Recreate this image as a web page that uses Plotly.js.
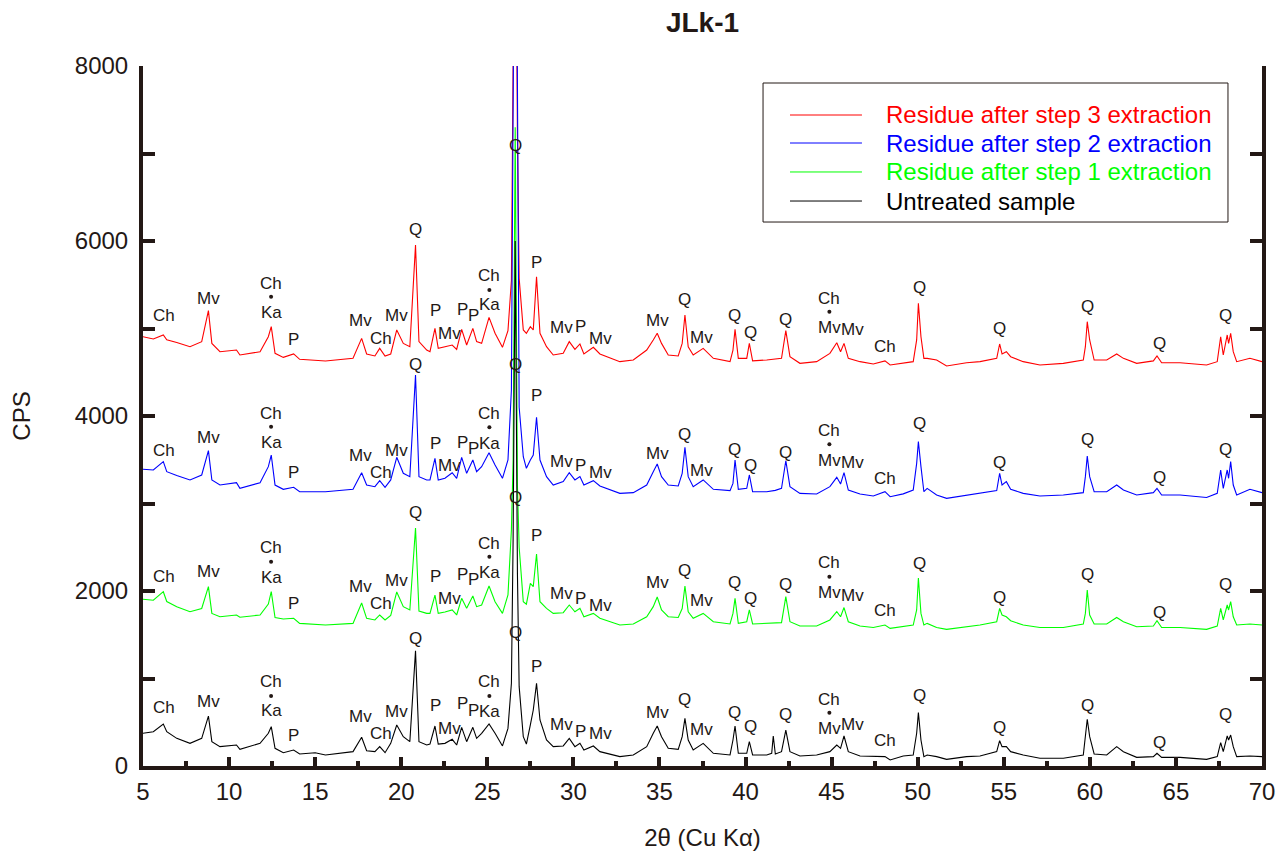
<!DOCTYPE html>
<html><head><meta charset="utf-8">
<script src="https://cdn.plot.ly/plotly-3.0.1.min.js"></script>
<style>body{margin:0;background:#fff}#chart{width:1286px;height:854px}</style>
</head><body><div id="chart"></div>
<script>
// 2θ positions (degrees)
const twoTheta = [
 5.0, 5.6, 6.18, 6.38, 6.96, 7.73, 8.41, 8.8, 9.0, 9.47,
 10.43, 10.63, 11.8, 12.28, 12.45, 12.67, 13.15, 13.75, 14.1, 15.0,
 15.6, 17.2, 17.7, 17.99, 18.47, 18.75, 19.06, 19.39, 19.74, 20.12,
 20.5, 20.83, 21.03, 21.48, 21.67, 21.96, 22.15, 22.54, 22.96, 23.22,
 23.51, 23.8, 24.16, 24.38, 24.67, 25.1, 25.45, 25.88, 26.2, 26.4,
 26.5, 26.62, 26.75, 26.85, 27.09, 27.27, 27.5, 27.67, 27.86, 28.06,
 28.44, 28.83, 29.41, 29.76, 30.09, 30.38, 30.61, 31.16, 31.54, 32.7,
 33.48, 34.26, 34.64, 34.87, 35.12, 35.51, 36.09, 36.32, 36.48, 36.67,
 36.96, 37.54, 38.13, 39.1, 39.27, 39.39, 39.58, 40.07, 40.22, 40.41,
 41.23, 41.52, 41.61, 41.73, 42.09, 42.34, 42.58, 43.16, 44.13, 44.9,
 45.3, 45.52, 45.72, 45.97, 46.65, 47.42, 48.1, 48.4, 49.16, 49.74,
 49.94, 50.04, 50.19, 50.36, 50.55, 51.1, 51.68, 52.84, 53.62, 54.59,
 54.76, 54.9, 55.15, 55.4, 56.13, 57.1, 58.46, 59.62, 59.74, 59.85,
 59.99, 60.25, 60.98, 61.56, 61.95, 62.72, 63.69, 63.9, 64.17, 65.24,
 66.78, 67.4, 67.6, 67.75, 67.98, 68.06, 68.18, 68.33, 68.53, 69.3,
 70.0];

// Intensities (CPS) for each pattern
const untreated = [
 374, 392, 480, 392, 316, 259, 316, 571, 278, 221,
 240, 191, 259, 374, 449, 202, 152, 183, 137, 152,
 126, 164, 328, 175, 164, 221, 152, 259, 469, 335,
 278, 1318, 278, 240, 251, 457, 251, 259, 305, 240,
 442, 278, 442, 316, 374, 480, 374, 229, 430, 945,
 2600, 6000, 2200, 907, 335, 251, 469, 640, 945, 526,
 297, 221, 229, 316, 221, 259, 183, 229, 164, 107,
 126, 221, 374, 457, 335, 202, 191, 335, 545, 297,
 183, 259, 145, 126, 297, 457, 145, 145, 278, 126,
 126, 145, 343, 137, 164, 411, 164, 114, 126, 164,
 240, 202, 343, 164, 114, 107, 107, 69, 114, 126,
 374, 610, 297, 107, 126, 107, 76, 107, 114, 164,
 289, 221, 221, 164, 126, 88, 88, 126, 374, 534,
 335, 137, 126, 221, 164, 99, 107, 145, 99, 99,
 76, 107, 267, 164, 343, 297, 354, 221, 107, 114,
 107];

const step1 = [
 1905, 1895, 1992, 1880, 1820, 1763, 1800, 2050, 1744, 1706,
 1726, 1700, 1726, 1850, 1992, 1697, 1680, 1688, 1630, 1620,
 1611, 1630, 1863, 1688, 1669, 1726, 1669, 1720, 1989, 1821,
 1783, 2720, 1770, 1744, 1744, 1954, 1744, 1760, 1783, 1726,
 1916, 1802, 1943, 1821, 1840, 2057, 1878, 1744, 1954, 2700,
 3500, 7300, 3200, 2500, 1878, 1850, 2088, 2050, 2423, 1878,
 1802, 1744, 1752, 1840, 1763, 1802, 1706, 1744, 1688, 1611,
 1623, 1706, 1821, 1931, 1783, 1706, 1697, 1800, 2057, 1763,
 1688, 1744, 1649, 1623, 1744, 1916, 1630, 1649, 1783, 1623,
 1630, 1635, 1640, 1636, 1638, 1935, 1649, 1600, 1600, 1669,
 1763, 1706, 1811, 1649, 1600, 1583, 1611, 1573, 1590, 1611,
 1783, 2149, 1744, 1611, 1630, 1583, 1562, 1592, 1611, 1649,
 1802, 1726, 1706, 1660, 1611, 1583, 1583, 1623, 1744, 2011,
 1726, 1623, 1623, 1697, 1649, 1592, 1600, 1660, 1583, 1583,
 1562, 1600, 1802, 1669, 1840, 1783, 1878, 1706, 1611, 1623,
 1611];

const step2 = [
 3391, 3383, 3478, 3364, 3320, 3269, 3326, 3604, 3269, 3211,
 3238, 3173, 3238, 3421, 3554, 3211, 3162, 3185, 3135, 3140,
 3135, 3162, 3352, 3211, 3192, 3261, 3185, 3269, 3528, 3345,
 3307, 4469, 3307, 3269, 3269, 3516, 3269, 3288, 3352, 3288,
 3528, 3345, 3497, 3364, 3421, 3581, 3440, 3288, 3497, 4300,
 8200, 11500, 7800, 4100, 3535, 3402, 3497, 3554, 3985, 3497,
 3307, 3211, 3250, 3352, 3269, 3307, 3211, 3261, 3200, 3116,
 3124, 3211, 3364, 3451, 3307, 3211, 3200, 3345, 3642, 3307,
 3192, 3269, 3162, 3147, 3230, 3497, 3162, 3173, 3326, 3135,
 3135, 3140, 3145, 3150, 3173, 3489, 3192, 3116, 3109, 3192,
 3299, 3223, 3352, 3154, 3109, 3086, 3135, 3078, 3110, 3154,
 3459, 3707, 3421, 3135, 3173, 3097, 3059, 3097, 3116, 3147,
 3345, 3211, 3250, 3162, 3116, 3086, 3097, 3124, 3307, 3543,
 3307, 3135, 3135, 3211, 3154, 3097, 3124, 3173, 3097, 3097,
 3069, 3116, 3383, 3173, 3383, 3288, 3478, 3211, 3097, 3162,
 3124];

const step3 = [
 4906, 4880, 4926, 4870, 4840, 4792, 4850, 5204, 4830, 4735,
 4754, 4697, 4735, 4906, 5021, 4716, 4670, 4709, 4648, 4635,
 4628, 4659, 4887, 4709, 4686, 4773, 4686, 4709, 4983, 4830,
 4792, 5954, 4850, 4754, 4735, 5001, 4773, 4792, 4811, 4762,
 4990, 4811, 5001, 4850, 4830, 5127, 4945, 4785, 4975, 5550,
 7600, 11000, 7200, 5573, 4983, 4945, 5021, 4983, 5592, 4945,
 4792, 4697, 4716, 4850, 4762, 4823, 4709, 4785, 4709, 4621,
 4640, 4754, 4869, 4945, 4830, 4697, 4686, 4830, 5154, 4792,
 4697, 4773, 4659, 4621, 4754, 4990, 4659, 4659, 4830, 4630,
 4640, 4645, 4650, 4650, 4659, 4975, 4678, 4602, 4621, 4716,
 4838, 4735, 4830, 4659, 4621, 4594, 4630, 4583, 4605, 4621,
 4869, 5288, 4906, 4659, 4659, 4640, 4571, 4609, 4621, 4659,
 4823, 4709, 4735, 4678, 4621, 4583, 4602, 4640, 4792, 5078,
 4869, 4640, 4640, 4709, 4659, 4602, 4630, 4686, 4609, 4609,
 4583, 4621, 4906, 4697, 4926, 4830, 4945, 4735, 4621, 4659,
 4621];

const seriesNames = ['Residue after step 3 extraction', 'Residue after step 2 extraction',
                     'Residue after step 1 extraction', 'Untreated sample'];
const seriesColors = ['#ff0000', '#0000ff', '#00ff00', '#000000'];
const seriesValues = [step3, step2, step1, untreated];

// Phase labels (shared text and 2θ position), with per-pattern heights
const labelText = ['Ch','Mv','Ch','•','Ka','P','Mv','Ch','Mv','Q',
                   'P','Mv','P','P','Ch','•','Ka','Q','P','Mv',
                   'P','Mv','Mv','Q','Mv','Q','Q','Q','Ch','•',
                   'Mv','Mv','Ch','Q','Q','Q','Q','Q'];
const labelPos = [6.22, 8.78, 12.44, 12.44, 12.44, 13.73, 17.65, 18.81, 19.74, 20.80,
                  22.00, 22.79, 23.55, 24.19, 25.12, 25.12, 25.14, 26.61, 27.87, 29.32,
                  30.43, 31.60, 34.90, 36.48, 37.45, 39.33, 40.26, 42.35, 44.87, 44.87,
                  44.87, 46.23, 48.10, 50.08, 54.74, 59.85, 64.02, 67.89];
const labelY3 = [5143,5345,5517,5364,5181,4869,5089,4888,5143,6137,5211,4945,5219,5154,5611,5440,5269,7097,5752,5014,5021,4888,5097,5326,4899,5143,4952,5105,5345,5192,5014,4991,4800,5471,5002,5257,4823,5143];
const labelY2 = [3611,3757,4023,3878,3695,3352,3554,3352,3611,4594,3688,3429,3699,3631,4023,3871,3688,4583,4240,3478,3440,3352,3566,3794,3375,3619,3429,3581,3832,3676,3497,3467,3288,3909,3467,3733,3299,3619];
const labelY1 = [2164,2221,2499,2335,2157,1859,2050,1859,2118,2895,2171,1916,2194,2126,2545,2392,2210,3071,2629,1966,1916,1840,2095,2240,1897,2095,1916,2080,2324,2164,1981,1954,1775,2309,1928,2194,1752,2080];
const labelY0 = [671,735,963,800,629,354,563,366,621,1459,686,431,709,632,963,800,621,1523,1135,480,392,366,609,762,419,609,449,583,762,609,431,469,289,811,442,697,266,583];

const AX = '#231815';
const FONT = 'Liberation Sans, Arial, Helvetica, sans-serif';

const traces = seriesValues.map((vals, i) => ({
  type: 'scatter', mode: 'lines', x: twoTheta, y: vals, name: seriesNames[i],
  line: {color: seriesColors[i], width: 1.1}, hoverinfo: 'x+y'
}));

// separator dots between stacked phase labels, drawn as small markers
const dotX = [], dotY = [];
const annotations = [];
[labelY3, labelY2, labelY1, labelY0].forEach(ys => {
  labelText.forEach((t, i) => {
    if (t === '•') { dotX.push(labelPos[i]); dotY.push(ys[i]); return; }
    annotations.push({x: labelPos[i], y: ys[i], xref: 'x', yref: 'y', text: t, showarrow: false,
      xanchor: 'center', yanchor: 'middle', borderpad: 0,
      font: {family: FONT, size: 17, color: AX}});
  });
});
traces.push({type: 'scatter', mode: 'markers', x: dotX, y: dotY, showlegend: false, hoverinfo: 'skip',
  marker: {symbol: 'circle', size: 4, color: AX, line: {width: 0}}});

// custom legend (paper coordinates)
const legY = [0.930, 0.890, 0.8486, 0.8071];
const shapes = [{type: 'rect', xref: 'paper', yref: 'paper', x0: 0.5541, x1: 0.9696, y0: 0.7771, y1: 0.9757,
  line: {color: AX, width: 1}, fillcolor: 'rgba(255,255,255,1)', layer: 'above'}];
seriesNames.forEach((n, i) => {
  shapes.push({type: 'line', xref: 'paper', yref: 'paper', x0: 0.5782, x1: 0.6425, y0: legY[i], y1: legY[i],
    line: {color: seriesColors[i], width: 1}, layer: 'above'});
  annotations.push({xref: 'paper', yref: 'paper', x: 0.6622, y: legY[i], text: n, showarrow: false,
    xanchor: 'left', yanchor: 'middle', font: {family: FONT, size: 24, color: seriesColors[i]}});
});

const layout = {
  width: 1286, height: 854,
  margin: {l: 143, r: 24, t: 66, b: 88},
  paper_bgcolor: '#ffffff', plot_bgcolor: '#ffffff',
  font: {family: FONT, color: AX},
  showlegend: false,
  title: {text: '<b>JLk-1</b>', x: 0.5, xref: 'paper', y: 1 - 22 / 854, yref: 'container', yanchor: 'middle',
    font: {family: FONT, size: 28, color: AX}},
  xaxis: {range: [5, 70], tick0: 5, dtick: 5, ticks: 'inside', ticklen: 9, tickwidth: 4, tickcolor: AX,
    showline: true, linewidth: 4, linecolor: AX, mirror: false, showgrid: false, zeroline: false,
    tickfont: {family: FONT, size: 24, color: AX}, ticklabelstandoff: 1,
    title: {text: '2θ (Cu Kα)', font: {family: FONT, size: 24, color: AX}, standoff: 26},
    minor: {tick0: 5, dtick: 2.5, ticks: 'inside', ticklen: 5, tickwidth: 4, tickcolor: AX, showgrid: false}},
  yaxis: {range: [0, 8000], tick0: 0, dtick: 2000, ticks: 'inside', ticklen: 12, tickwidth: 4, tickcolor: AX,
    showline: true, linewidth: 4, linecolor: AX, mirror: 'ticks', showgrid: false, zeroline: false,
    tickfont: {family: FONT, size: 24, color: AX}, ticklabelstandoff: 6,
    title: {text: 'CPS', font: {family: FONT, size: 24, color: AX}, standoff: 38},
    minor: {tick0: 0, dtick: 1000, ticks: 'inside', ticklen: 12, tickwidth: 4, tickcolor: AX, showgrid: false}},
  annotations: annotations,
  shapes: shapes
};

Plotly.newPlot('chart', traces, layout, {displayModeBar: false, staticPlot: true});
</script>
</body></html>
